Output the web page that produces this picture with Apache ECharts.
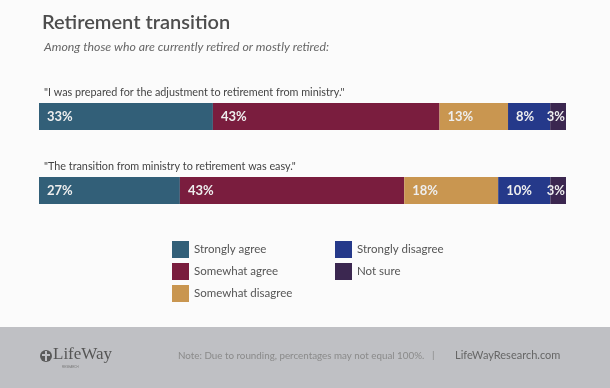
<!DOCTYPE html>
<html><head><meta charset="utf-8">
<script src="https://cdn.jsdelivr.net/npm/echarts@6/dist/echarts.min.js"></script>
<style>html,body{margin:0;padding:0;background:#fbfbfb}#c{width:610px;height:388px}</style>
</head><body><div id="c"></div>
<script>
const statements = ['"I was prepared for the adjustment to retirement from ministry."', '"The transition from ministry to retirement was easy."'];
const seriesNames = ['Strongly agree', 'Somewhat agree', 'Somewhat disagree', 'Strongly disagree', 'Not sure'];
const stronglyAgree = [33, 27];
const somewhatAgree = [43, 43];
const somewhatDisagree = [13, 18];
const stronglyDisagree = [8, 10];
const notSure = [3, 3];
const colors = ['#325f78', '#7a1d3e', '#c99650', '#25398a', '#3b2750'];

const values = [stronglyAgree, somewhatAgree, somewhatDisagree, stronglyDisagree, notSure];
const chart = echarts.init(document.getElementById('c'), null, {renderer: 'canvas'});
const font = 'Lato, "Open Sans", sans-serif';
const gridTops = [103, 177];
const grids = [], xAxes = [], yAxes = [], series = [];
statements.forEach((s, i) => {
  grids.push({left: 39, right: 44, top: gridTops[i], height: 27});
  const total = values.reduce((a, v) => a + v[i], 0);
  xAxes.push({gridIndex: i, type: 'value', min: 0, max: total, show: false});
  yAxes.push({gridIndex: i, type: 'category', data: [s], show: false});
  seriesNames.forEach((n, k) => {
    const last = k === seriesNames.length - 1;
    series.push({
      name: n, type: 'bar', stack: 'r' + i, xAxisIndex: i, yAxisIndex: i,
      barWidth: '100%', data: [values[k][i]],
      itemStyle: {color: colors[k]},
      label: {show: true, position: last ? 'insideRight' : 'insideLeft', distance: last ? 1 : 5, offset: last ? [0, 0] : [3, 0],
        formatter: '{c}%', color: '#eeeeee', fontFamily: font, fontWeight: 'bold', fontSize: 13, overflow: 'none'}
    });
  });
});
const legendText = {color: '#555', fontFamily: font, fontSize: 11.5, padding: [0, 0, 0, 0]};
chart.setOption({
  animation: false,
  backgroundColor: '#fbfbfb',
  textStyle: {fontFamily: font},
  title: [
    {text: 'Retirement transition', left: 37, top: 8, textStyle: {fontFamily: font, fontSize: 20, fontWeight: 600, color: '#4d4d4d'}},
    {text: 'Among those who are currently retired or mostly retired:', left: 39, top: 36, textStyle: {fontFamily: font, fontSize: 12.3, fontStyle: 'italic', fontWeight: 'normal', color: '#666'}},
    {text: statements[0], left: 39, top: 82, textStyle: {fontFamily: font, fontSize: 10.8, fontWeight: 'normal', color: '#444'}},
    {text: statements[1], left: 39, top: 156, textStyle: {fontFamily: font, fontSize: 10.8, fontWeight: 'normal', color: '#444'}}
  ],
  legend: [
    {data: seriesNames.slice(0, 3), orient: 'vertical', left: 167, top: 236, icon: 'rect', itemWidth: 17, itemHeight: 17, itemGap: 5, textStyle: legendText, selectedMode: false},
    {data: seriesNames.slice(3), orient: 'vertical', left: 330, top: 236, icon: 'rect', itemWidth: 17, itemHeight: 17, itemGap: 5, textStyle: legendText, selectedMode: false}
  ],
  grid: grids, xAxis: xAxes, yAxis: yAxes, series: series,
  graphic: [
    {type: 'rect', shape: {x: 0, y: 327, width: 610, height: 61}, style: {fill: '#bfc0c4'}, silent: true},
    {type: 'circle', shape: {cx: 46, cy: 356, r: 6}, style: {fill: '#5a5a5a'}},
    {type: 'rect', shape: {x: 45, y: 351, width: 2, height: 10}, style: {fill: '#bfc0c4'}},
    {type: 'rect', shape: {x: 42, y: 354, width: 8, height: 2}, style: {fill: '#bfc0c4'}},
    {type: 'text', left: 53, top: 346, style: {text: 'LifeWay', font: '17px "Liberation Serif", serif', fill: '#555'}},
    {type: 'text', left: 62, top: 366, style: {text: 'RESEARCH', font: '3px sans-serif', fill: '#777'}},
    {type: 'text', left: 178, top: 351, style: {text: 'Note: Due to rounding, percentages may not equal 100%.', font: '9.8px Lato, sans-serif', fill: '#8a8a8a'}},
    {type: 'text', left: 432, top: 350, style: {text: '|', font: '10px Lato, sans-serif', fill: '#8a8a8a'}},
    {type: 'text', left: 455, top: 350, style: {text: 'LifeWayResearch.com', font: '11px Lato, sans-serif', fill: '#666'}}
  ]
});
</script></body></html>
